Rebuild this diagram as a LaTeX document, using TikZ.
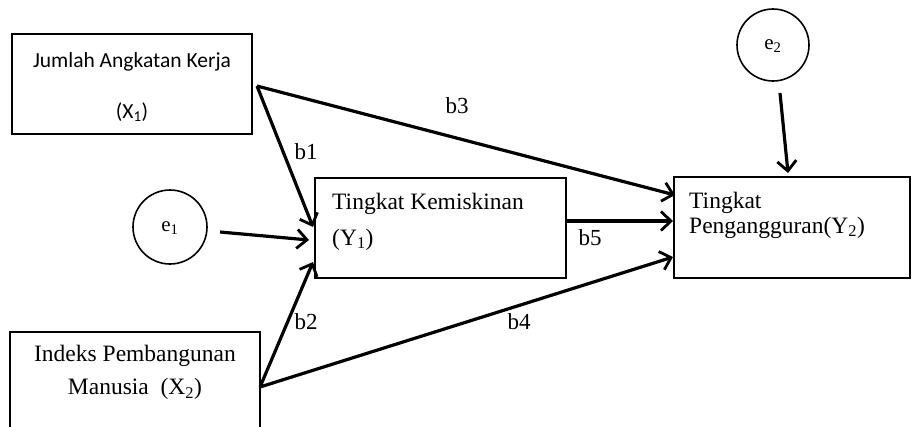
\documentclass[tikz,border=0pt]{standalone}
\usepackage{fontspec}
\setmainfont{Liberation Serif}
\newfontfamily\calfont{Carlito}
\usetikzlibrary{arrows.meta}
\begin{document}
\begin{tikzpicture}[x=1pt,y=-1pt,
  boxnode/.style={draw, line width=1.6pt, inner sep=0pt},
  errnode/.style={draw, circle, line width=1.6pt, inner sep=0pt},
  arr/.style={line width=3.2pt, -{Straight Barb[length=10pt,width=19pt,line width=2.8pt]}},
  lbl/.style={inner sep=0pt, font=\fontsize{23}{27}\selectfont},
  txt/.style={inner sep=0pt, font=\fontsize{23.5}{27}\selectfont},
  ctxt/.style={inner sep=0pt, font=\calfont\fontsize{21.5}{25}\selectfont}]
\clip (0,0) rectangle (912,426);
\fill[white] (0,0) rectangle (912,426);
% boxes
\node[boxnode, minimum width=240pt, minimum height=100pt] (X1) at (132,84) {};
\node[boxnode, minimum width=250pt, minimum height=110pt] (X2) at (135,387) {};
\node[boxnode, minimum width=251pt, minimum height=100pt] (Y1) at (440.5,228) {};
\node[boxnode, minimum width=236pt, minimum height=101pt] (Y2) at (792,227.5) {};
\node[errnode, minimum size=74pt] (e1) at (170,227) {};
\node[errnode, minimum size=72pt] (e2) at (773,45) {};
% texts
\node[ctxt] (tx1a) at (132,62) {Jumlah Angkatan Kerja};
\node[ctxt] (tx1b) at (132,112) {(X\textsubscript{1})};
\node[txt] (tx2a) at (135,356) {Indeks Pembangunan};
\node[txt] (tx2b) at (135,389) {Manusia\ \ (X\textsubscript{2})};
\node[txt, anchor=base west] (ty1a) at (332,209) {Tingkat Kemiskinan};
\node[txt, anchor=base west] (ty1b) at (332,245) {(Y\textsubscript{1})};
\node[txt, anchor=base west] (ty2a) at (689,208) {Tingkat};
\node[txt, anchor=base west] (ty2b) at (689,233) {Pengangguran(Y\textsubscript{2})};
\node[inner sep=0pt, font=\fontsize{21}{24}\selectfont] (te1) at (170,228) {e\textsubscript{1}};
\node[inner sep=0pt, font=\fontsize{21}{24}\selectfont] (te2) at (773,46) {e\textsubscript{2}};
% connector coordinates
\coordinate (s1) at (257,86);
\coordinate (s2) at (260,387);
\coordinate (t1) at (313,227);
\coordinate (t2) at (313,262);
\coordinate (t3) at (675,195);
\coordinate (t4) at (673,257);
\coordinate (s5) at (Y1.east |- 0,221);
\coordinate (t5) at (673,221);
\coordinate (se1) at (220,232);
\coordinate (te1a) at (309,240);
\coordinate (se2) at (780,93);
\coordinate (te2a) at (788,173);
% arrows
\draw[arr] (s1) -- (t1);
\draw[arr] (s1) -- (t3);
\draw[arr] (s2) -- (t2);
\draw[arr] (s2) -- (t4);
\draw[arr] (s5) -- (t5);
\draw[arr] (se1) -- (te1a);
\draw[arr] (se2) -- (te2a);
% labels
\node[lbl] (b1) at (306,152) {b1};
\node[lbl] (b2) at (306,322) {b2};
\node[lbl] (b3) at (457,106) {b3};
\node[lbl] (b4) at (519,322) {b4};
\node[lbl] (b5) at (590,238) {b5};
\end{tikzpicture}
\end{document}
